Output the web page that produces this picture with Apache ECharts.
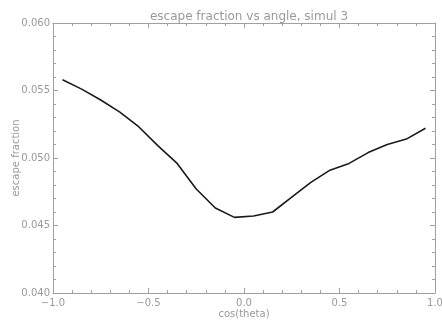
<!DOCTYPE html>
<html>
<head>
<meta charset="utf-8">
<script src="https://cdn.jsdelivr.net/npm/echarts@6/dist/echarts.min.js"></script>
<style>
  html, body { margin: 0; padding: 0; background: #fff; }
  #chart { width: 442px; height: 320px; }
</style>
</head>
<body>
<div id="chart"></div>
<script>
const cosTheta = [-0.95, -0.85, -0.75, -0.65, -0.55, -0.45, -0.35, -0.25, -0.15, -0.05,
                  0.05, 0.15, 0.25, 0.35, 0.45, 0.55, 0.65, 0.75, 0.85, 0.95];
const escapeFraction = [0.0558, 0.0551, 0.0543, 0.0534, 0.0523, 0.0509, 0.0496, 0.0477, 0.0463, 0.0456,
                        0.0457, 0.0460, 0.0471, 0.0482, 0.0491, 0.0496, 0.0504, 0.0510, 0.0514, 0.0522];

const axisGray = "#a0a0a0";
const textGray = "#999999";
const font = "DejaVu Sans";

const tickStyle = { show: true, inside: true, length: 5, lineStyle: { color: axisGray } };
const minorStyle = { show: true, splitNumber: 5, length: 3, lineStyle: { color: axisGray } };
const lineStyle = { show: true, onZero: false, lineStyle: { color: axisGray, width: 1 } };

const chart = echarts.init(document.getElementById("chart"));
chart.setOption({
  animation: false,
  backgroundColor: "#fff",
  title: {
    text: "escape fraction vs angle, simul 3",
    left: 244,
    top: 6,
    textAlign: "center",
    textStyle: { fontFamily: font, fontSize: 12, fontWeight: "normal", color: textGray }
  },
  grid: { left: 53, right: 7, top: 23, bottom: 27, outerBoundsMode: "none", containLabel: false },
  xAxis: [
    {
      type: "value", min: -1, max: 1, interval: 0.5, position: "bottom",
      name: "cos(theta)", nameLocation: "middle", nameGap: 16, nameMoveOverlap: false,
      nameTextStyle: { fontFamily: font, fontSize: 10, color: textGray },
      axisLine: lineStyle, axisTick: tickStyle, minorTick: minorStyle,
      splitLine: { show: false },
      axisLabel: { fontFamily: font, fontSize: 10, color: textGray, margin: 5,
        formatter: (v) => v.toFixed(1).replace("-", "\u2212") }
    },
    {
      type: "value", min: -1, max: 1, interval: 0.5, position: "top",
      axisLine: lineStyle, axisTick: tickStyle, minorTick: minorStyle,
      splitLine: { show: false }, axisLabel: { show: false }
    }
  ],
  yAxis: [
    {
      type: "value", min: 0.04, max: 0.06, interval: 0.005, position: "left",
      name: "escape fraction", nameLocation: "middle", nameGap: 32, nameMoveOverlap: false,
      nameTextStyle: { fontFamily: font, fontSize: 10, color: textGray },
      axisLine: lineStyle, axisTick: tickStyle, minorTick: minorStyle,
      splitLine: { show: false },
      axisLabel: { fontFamily: font, fontSize: 10, color: textGray, margin: 3,
        formatter: (v) => v.toFixed(3) }
    },
    {
      type: "value", min: 0.04, max: 0.06, interval: 0.005, position: "right",
      axisLine: lineStyle, axisTick: tickStyle, minorTick: minorStyle,
      splitLine: { show: false }, axisLabel: { show: false }
    }
  ],
  series: [
    {
      type: "line",
      xAxisIndex: 0,
      yAxisIndex: 0,
      data: cosTheta.map((c, i) => [c, escapeFraction[i]]),
      showSymbol: false,
      lineStyle: { color: "#1a1a1a", width: 1.6 }
    }
  ]
});
</script>
</body>
</html>
